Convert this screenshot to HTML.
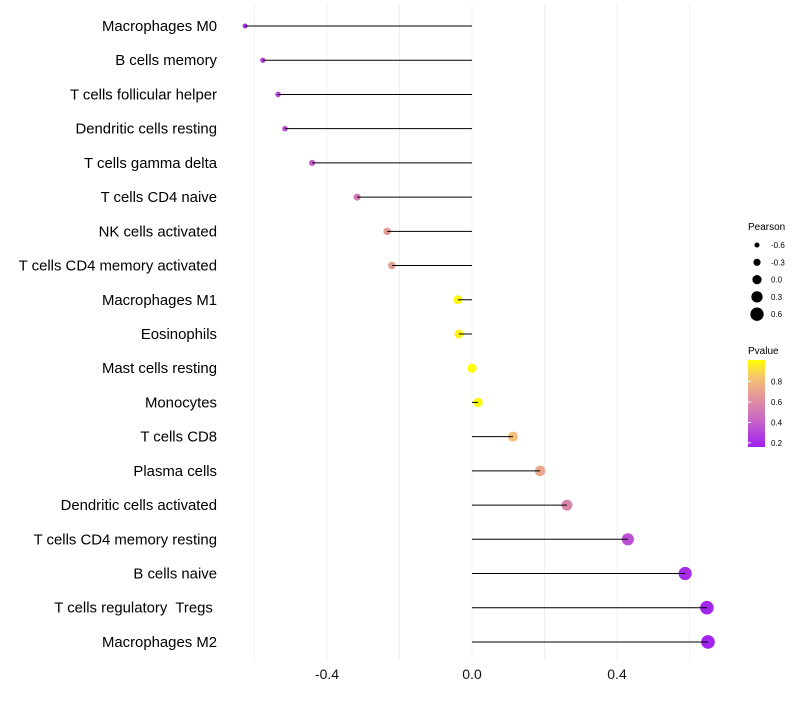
<!DOCTYPE html>
<html><head><meta charset="utf-8"><style>
body{margin:0;background:#fff;}
svg text{font-family:"Liberation Sans",sans-serif;white-space:pre;}
</style></head><body>
<svg id="chart" width="800" height="700">
<defs><linearGradient id="pg" x1="0" y1="1" x2="0" y2="0">
<stop offset="0" stop-color="#A020F0"/><stop offset="0.3" stop-color="#C765C8"/>
<stop offset="0.55" stop-color="#E2919F"/><stop offset="0.8" stop-color="#F5C372"/>
<stop offset="1" stop-color="#FFFF00"/></linearGradient></defs>
<g id="grid"></g><g id="dots"></g><g id="marks"></g><g id="labels"></g>
<g>
<text x="748" y="230" font-size="10">Pearson</text>
<g id="sizeleg"></g>
<text x="748" y="354" font-size="10">Pvalue</text>
<rect x="748" y="360" width="17" height="87" fill="url(#pg)"/>
<g id="colleg"></g>
</g>
</svg>
<script>
const categories=["Macrophages M0","B cells memory","T cells follicular helper","Dendritic cells resting","T cells gamma delta","T cells CD4 naive","NK cells activated","T cells CD4 memory activated","Macrophages M1","Eosinophils","Mast cells resting","Monocytes","T cells CD8","Plasma cells","Dendritic cells activated","T cells CD4 memory resting","B cells naive","T cells regulatory  Tregs ","Macrophages M2"];
const pearson=[-0.626,-0.577,-0.535,-0.516,-0.441,-0.317,-0.234,-0.221,-0.039,-0.036,0.0,0.017,0.113,0.188,0.262,0.43,0.588,0.648,0.651];
const pvalues=[0.22,0.28,0.3,0.33,0.38,0.5,0.65,0.66,0.97,0.95,1.0,0.97,0.8,0.7,0.55,0.33,0.2,0.18,0.17];
const xTicks=[-0.4,0.0,0.4];
const sizeTicks=[-0.6,-0.3,0.0,0.3,0.6];
const colTicks=[0.8,0.6,0.4,0.2];
const NS="http://www.w3.org/2000/svg";
const X=v=>472+v*362.5, Y=i=>26+i*34.22, R=v=>Math.max(1.5,4.6+v*3.4);
const colY=p=>447-(p-0.16)/0.2*20.5;
function col(p){const t=Math.max(0,Math.min(1,(p-0.16)/0.82));
const st=[[0,[160,32,240]],[0.3,[199,101,200]],[0.55,[226,145,159]],[0.8,[245,195,114]],[1,[255,255,0]]];
for(let k=1;k<st.length;k++){if(t<=st[k][0]){const a=st[k-1],b=st[k],f=(t-a[0])/(b[0]-a[0]);return`rgb(${a[1].map((c,j)=>Math.round(c+(b[1][j]-c)*f)).join(',')})`;}}return'rgb(255,255,0)';}
function mk(tag,at,par){const e=document.createElementNS(NS,tag);for(const k in at)e.setAttribute(k,at[k]);document.getElementById(par).appendChild(e);return e;}
[-0.6,-0.4,-0.2,0,0.2,0.4,0.6].forEach(v=>{const l=mk('line',{x1:X(v),x2:X(v),y1:5,y2:660,stroke:'#f0f0f0','stroke-width':1},'grid');

});
xTicks.forEach(v=>{const t=mk('text',{x:X(v),y:679,'font-size':14,'text-anchor':'middle',fill:'#111'},'grid');t.textContent=v.toFixed(1);

});
categories.forEach((c,i)=>{const y=Y(i);
const d=mk('circle',{cx:X(pearson[i]),cy:y,r:R(pearson[i]),fill:col(pvalues[i])},'dots');


const l=mk('line',{x1:X(0),x2:X(pearson[i]),y1:y,y2:y,stroke:'#000','stroke-width':1},'marks');


const t=mk('text',{x:217,y:y+5,'font-size':14.9,'text-anchor':'end',fill:'#000'},'labels');t.textContent=c;

});
sizeTicks.forEach((v,i)=>{const y=245+i*17.3;
const c=mk('circle',{cx:757,cy:y,r:R(v),fill:'#000'},'sizeleg');


const t=mk('text',{x:771,y:y+3,'font-size':8},'sizeleg');t.textContent=v.toFixed(1);

});
colTicks.forEach(p=>{const y=colY(p);
const l=mk('line',{x1:748,x2:751,y1:y,y2:y,stroke:'#fff'},'colleg');


const t=mk('text',{x:771,y:y+3,'font-size':8},'colleg');t.textContent=p.toFixed(1);

});
</script>
</body></html>
